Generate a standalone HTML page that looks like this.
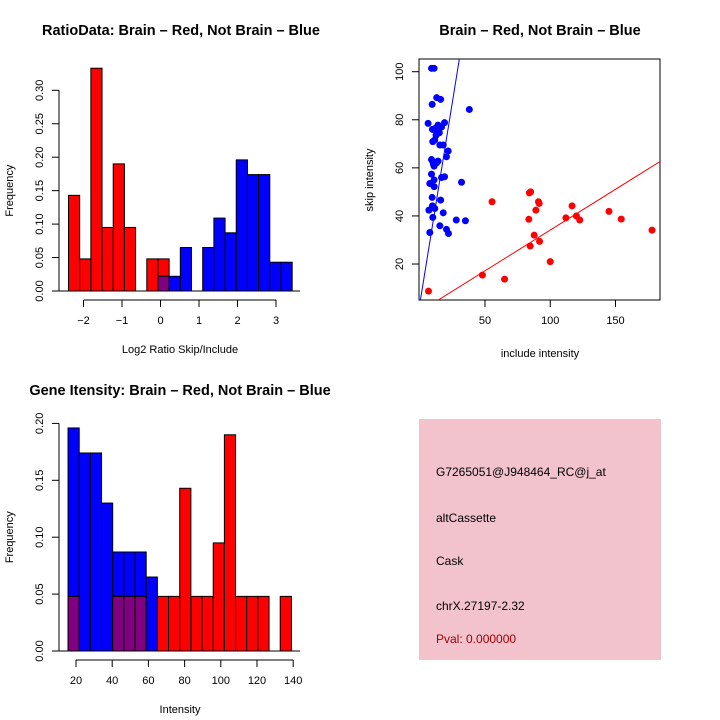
<!DOCTYPE html>
<html><head><meta charset="utf-8"><style>
body{margin:0;background:#fff}
svg{display:block;font-family:"Liberation Sans",sans-serif}
</style></head><body>
<svg id="s" width="720" height="720" viewBox="0 0 720 720" xmlns="http://www.w3.org/2000/svg">
<rect width="720" height="720" fill="#fff"/>
<g id="p1"></g>
<g id="p2"></g>
<g id="p3"></g>
<g>
<rect x="419" y="419" width="242" height="241" fill="#f2c2cd"/>
<text x="436" y="476" font-size="12">G7265051@J948464_RC@j_at</text>
<text x="436" y="522" font-size="12">altCassette</text>
<text x="436" y="565" font-size="12">Cask</text>
<text x="436" y="610" font-size="12">chrX.27197-2.32</text>
<text x="436" y="643" font-size="12" fill="#a00000">Pval: 0.000000</text>
</g>
</svg>
<script>
// ---- data ----
const ratioBinStart = -2.39, ratioBinWidth = 0.2905;
const ratioRed  = [0.143,0.048,0.333,0.095,0.190,0.095,0,0.048,0.048,0,0,0,0,0,0,0,0,0,0,0];
const ratioBlue = [0,0,0,0,0,0,0,0,0.022,0.022,0.065,0,0.065,0.109,0.087,0.196,0.174,0.174,0.043,0.043];
const ratioXTicks = [-2,-1,0,1,2,3];
const ratioYTicks = [0,0.05,0.10,0.15,0.20,0.25,0.30];
const ratioYLabels = ["0.00","0.05","0.10","0.15","0.20","0.25","0.30"];

const intBinStart = 15.6, intBinWidth = 6.17;
const intBlue = [0.196,0.174,0.174,0.130,0.087,0.087,0.087,0.065,0,0,0,0,0,0,0,0,0,0,0,0];
const intRed  = [0.048,0,0,0,0.048,0.048,0.048,0,0.048,0.048,0.143,0.048,0.048,0.095,0.190,0.048,0.048,0.048,0,0.048];
const intXTicks = [20,40,60,80,100,120,140];
const intYTicks = [0,0.05,0.10,0.15,0.20];
const intYLabels = ["0.00","0.05","0.10","0.15","0.20"];

const blueX = [9,11,9.5,13,16,38,6.4,9.7,14,16.7,19,13,15,10,11.5,15.4,18,21.8,20.5,9,10,13,11,9,16.7,19,7.7,11,32,11,9.5,16,9.7,7,11.5,10,18,28,35,15.4,20.5,22,7.7,12,14,10.5,12.5];
const blueY = [101.4,101.4,86.4,89.2,88.5,84.3,78.5,76,77.8,77,78.8,74.3,74.6,70.9,71.6,69.5,69.5,67,64.6,63.5,62.5,62.1,60.7,57.4,56,56.3,53.5,55,54,52.2,47.7,46.6,44.2,42.4,43.1,39.4,41.3,38.3,38,35.9,34.4,32.7,33.1,76.5,62.8,61.5,73.5];
const redX = [6.7,48,65,55.4,84,85,83.6,89,91,91.5,87.7,84.6,91.8,100,112,116.7,120,122.6,145,154.4,178];
const redY = [8.7,15.4,13.7,45.9,49.6,50,38.6,42.4,45.9,45.2,32,27.5,29.4,21,39.2,44.2,40,38.3,41.9,38.7,34.1];
const blueFit = [3.32, 3.36];   // intercept, slope
const redFit = [0.22, 0.339];
const scXTicks = [50,100,150];
const scYTicks = [20,40,60,80,100];

const NS = "http://www.w3.org/2000/svg";
function mk(parent, tag, attrs){const e=document.createElementNS(NS,tag);for(const k in attrs)e.setAttribute(k,attrs[k]);parent.appendChild(e);return e;}
function txt(parent, x, y, s, size, extra){const t=mk(parent,'text',Object.assign({x:x,y:y,'font-size':size,'text-anchor':'middle'},extra||{}));t.textContent=s;return t;}

function hist(g, o){
  const sx=v=>o.x0px+(v-o.x0v)*o.kx, sy=v=>o.y0px-v*o.ky;
  const n=o.a.length;
  for(let i=0;i<n;i++){
    const x1=sx(o.start+i*o.w), x2=sx(o.start+(i+1)*o.w);
    [[o.a[i],o.ca],[o.b[i],o.cb]].forEach(([v,c])=>{
      if(v>0){const r=mk(g,'rect',{x:x1,y:sy(v),width:x2-x1,height:sy(0)-sy(v),fill:c,stroke:'#000','stroke-width':1});
        
        }
    });
    const m=Math.min(o.a[i],o.b[i]);
    if(m>0){const r=mk(g,'rect',{x:x1,y:sy(m),width:x2-x1,height:sy(0)-sy(m),fill:'#800080',stroke:'#000','stroke-width':1});
      
      }
  }
  mk(g,'line',{x1:52,y1:sy(0),x2:300,y2:sy(0),stroke:'#000'});
  const ya=mk(g,'g',{});
  
  
  mk(ya,'line',{x1:59,y1:sy(o.yt[0]),x2:59,y2:sy(o.yt[o.yt.length-1]),stroke:'#000'});
  o.yt.forEach((v,i)=>{mk(ya,'line',{x1:52,y1:sy(v),x2:59,y2:sy(v),stroke:'#000'});
    txt(ya,0,0,o.yl[i],11,{transform:`translate(43,${sy(v)}) rotate(-90)`});});
  const xa=mk(g,'g',{});
  
  
  mk(xa,'line',{x1:sx(o.xt[0]),y1:o.axY,x2:sx(o.xt[o.xt.length-1]),y2:o.axY,stroke:'#000'});
  o.xt.forEach(v=>{mk(xa,'line',{x1:sx(v),y1:o.axY,x2:sx(v),y2:o.axY+7,stroke:'#000'});
    txt(xa,sx(v),o.axY+24,String(v).replace('-','\u2212'),11);});
  const t=txt(g,o.tx,o.ty,o.title,14.5,{'font-weight':'bold'});
  
  
  const xl=txt(g,180,o.axY+53,o.xlab,11);
  
  
  const yl=txt(g,0,0,'Frequency',11,{transform:`translate(13,${(sy(0)+sy(o.yt[o.yt.length-1]))/2}) rotate(-90)`});
  
  
}

hist(document.getElementById('p1'),{a:ratioRed,b:ratioBlue,ca:'#ff0000',cb:'#0000ff',start:ratioBinStart,w:ratioBinWidth,
  x0px:160.5,x0v:0,kx:38.5,y0px:291,ky:669,xt:ratioXTicks,yt:ratioYTicks,yl:ratioYLabels,axY:300,
  title:'RatioData: Brain \u2013 Red, Not Brain \u2013 Blue',tx:181,ty:35,xlab:'Log2 Ratio Skip/Include'});
hist(document.getElementById('p3'),{a:intBlue,b:intRed,ca:'#0000ff',cb:'#ff0000',start:intBinStart,w:intBinWidth,
  x0px:76,x0v:20,kx:1.81,y0px:651,ky:1138,xt:intXTicks,yt:intYTicks,yl:intYLabels,axY:660,
  title:'Gene Itensity: Brain \u2013 Red, Not Brain \u2013 Blue',tx:180,ty:395,xlab:'Intensity'});

(function(){
  const g=document.getElementById('p2');
  const L=419,R=660,T=59,B=300;
  const sx=v=>485+(v-50)*1.305, sy=v=>71.7-(v-100)*2.404;
  mk(g,'defs',{}).innerHTML='<clipPath id="cp"><rect x="419" y="59" width="241" height="241"/></clipPath>';
  const box=mk(g,'rect',{x:L,y:T,width:R-L,height:B-T,fill:'none',stroke:'#000'});
  
  
  const cg=mk(g,'g',{'clip-path':'url(#cp)'});
  [[blueFit,'#0000ff','blue-fit-line'],[redFit,'#ff0000','red-fit-line']].forEach(([f,c,n])=>{
    const l=mk(cg,'line',{x1:sx(-10),y1:sy(f[0]+f[1]*-10),x2:sx(200),y2:sy(f[0]+f[1]*200),stroke:c,'stroke-width':1});
    
    
  });
  blueX.forEach((x,i)=>{const c=mk(cg,'circle',{cx:sx(x),cy:sy(blueY[i]),r:3.5,fill:'#0000ff'});
    
    });
  redX.forEach((x,i)=>{const c=mk(cg,'circle',{cx:sx(x),cy:sy(redY[i]),r:3.5,fill:'#ff0000'});
    
    });
  scXTicks.forEach(v=>{mk(g,'line',{x1:sx(v),y1:B,x2:sx(v),y2:B+7,stroke:'#000'});txt(g,sx(v),B+24,String(v),11);});
  scYTicks.forEach(v=>{mk(g,'line',{x1:L-7,y1:sy(v),x2:L,y2:sy(v),stroke:'#000'});
    txt(g,0,0,String(v),11,{transform:`translate(403,${sy(v)}) rotate(-90)`});});
  const t=txt(g,540,35,'Brain \u2013 Red, Not Brain \u2013 Blue',14.5,{'font-weight':'bold'});
  
  
  const xl=txt(g,540,357,'include intensity',11);
  
  
  const yl=txt(g,0,0,'skip intensity',11,{transform:'translate(373,180) rotate(-90)'});
  
  
})();
</script>
</body></html>
